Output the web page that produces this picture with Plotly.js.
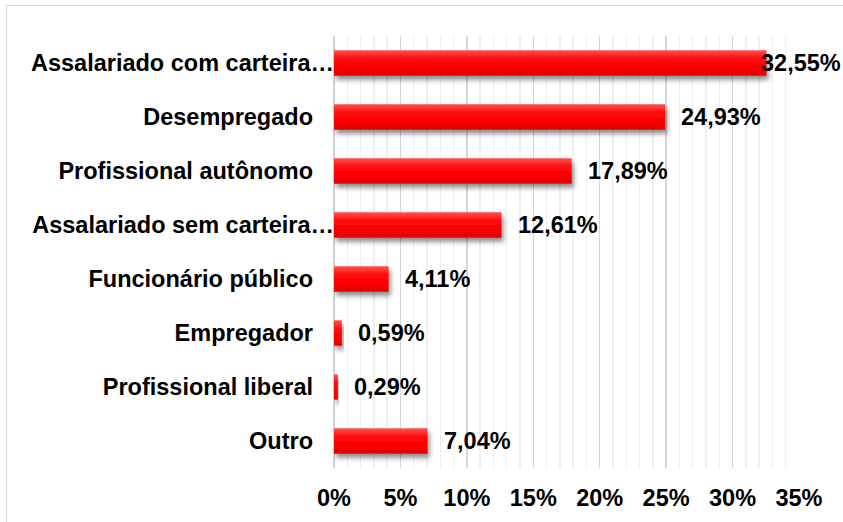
<!DOCTYPE html>
<html>
<head>
<meta charset="utf-8">
<script src="https://cdn.plot.ly/plotly-3.0.1.min.js"></script>
<style>
  html, body { margin: 0; padding: 0; background: #fff; }
  #wrap { position: relative; width: 843px; height: 522px; overflow: hidden; }
  #chart { width: 843px; height: 522px; }
  #frame { position: absolute; left: 6px; top: 5px; width: 900px; height: 600px;
           border-left: 1px solid #d9d9d9; border-top: 1px solid #d9d9d9; pointer-events: none; }
</style>
</head>
<body>
<div id="wrap">
  <div id="chart"></div>
  <div id="frame"></div>
</div>
<script>
const categories = [
  "Assalariado com carteira…",
  "Desempregado",
  "Profissional autônomo",
  "Assalariado sem carteira…",
  "Funcionário público",
  "Empregador",
  "Profissional liberal",
  "Outro"
];
const values = [32.55, 24.93, 17.89, 12.61, 4.11, 0.59, 0.29, 7.04];
const valueLabels = ["32,55%", "24,93%", "17,89%", "12,61%", "4,11%", "0,59%", "0,29%", "7,04%"];
const tickVals = [0, 5, 10, 15, 20, 25, 30, 35];
const tickText = ["0%", "5%", "10%", "15%", "20%", "25%", "30%", "35%"];

const FONT = "'Liberation Sans', Arial, Helvetica, sans-serif";
const FS = 23.5;

const trace = {
  type: "bar",
  orientation: "h",
  x: values,
  y: categories,
  marker: { color: "#f80000", line: { width: 0 } },
  hoverinfo: "none"
};

const annotations = values.map((v, i) => ({
  x: v, y: categories[i], xref: "x", yref: "y",
  text: "<b>" + valueLabels[i] + "</b>",
  showarrow: false, xanchor: "left", yanchor: "middle",
  xshift: i === 0 ? -7 : 14,
  font: { family: FONT, size: FS, color: "#000" }
}));

const layout = {
  width: 843, height: 522,
  margin: { l: 334, r: 44, t: 36, b: 54 },
  paper_bgcolor: "rgba(0,0,0,0)",
  plot_bgcolor: "rgba(0,0,0,0)",
  showlegend: false,
  bargap: 0.53,
  font: { family: FONT, size: FS, color: "#000" },
  xaxis: {
    range: [0, 35],
    tickvals: tickVals,
    ticktext: tickText,
    showgrid: true, gridcolor: "#d6d6d6", gridwidth: 1.5,
    minor: { dtick: 1, showgrid: true, gridcolor: "#efefef", gridwidth: 1.5 },
    zeroline: true, zerolinecolor: "#d0d0d0", zerolinewidth: 1.5,
    showline: false, ticks: "",
    ticklabelstandoff: 13,
    tickfont: { family: FONT, size: FS, color: "#000", weight: "bold" },
    fixedrange: true
  },
  yaxis: {
    autorange: "reversed",
    showgrid: false, zeroline: false, showline: false, ticks: "",
    ticklabelstandoff: 20,
    tickfont: { family: FONT, size: FS, color: "#000", weight: "bold" },
    fixedrange: true
  },
  annotations: annotations
};

Plotly.newPlot("chart", [trace], layout, { displayModeBar: false, staticPlot: true }).then(gd => {
  const svg = gd.querySelector("svg.main-svg");
  const ns = "http://www.w3.org/2000/svg";
  let defs = svg.querySelector("defs");
  if (!defs) { defs = document.createElementNS(ns, "defs"); svg.insertBefore(defs, svg.firstChild); }
  defs.insertAdjacentHTML("beforeend",
    '<linearGradient id="barGrad" x1="0" y1="0" x2="0" y2="1">' +
      '<stop offset="0" stop-color="#ff5050"/>' +
      '<stop offset="0.35" stop-color="#ff0a0a"/>' +
      '<stop offset="0.75" stop-color="#f80000"/>' +
      '<stop offset="1" stop-color="#de0000"/>' +
    '</linearGradient>' +
    '<filter id="barShadow" x="-20%" y="-50%" width="140%" height="220%">' +
      '<feGaussianBlur in="SourceAlpha" stdDeviation="2.5"/>' +
      '<feOffset dx="2" dy="4" result="ob"/>' +
      '<feComponentTransfer><feFuncA type="linear" slope="0.45"/></feComponentTransfer>' +
      '<feMerge><feMergeNode/><feMergeNode in="SourceGraphic"/></feMerge>' +
    '</filter>');
  gd.querySelectorAll(".barlayer .point path").forEach(p => {
    p.style.fill = "url(#barGrad)";
    p.setAttribute("filter", "url(#barShadow)");
  });
  // truncated category labels overflow toward the axis, as in the source
  gd.querySelectorAll(".ytick text").forEach(t => {
    if (t.textContent.endsWith("…")) {
      const x = parseFloat(t.getAttribute("x"));
      t.setAttribute("x", x + 21);
    }
  });
});
</script>
</body>
</html>
